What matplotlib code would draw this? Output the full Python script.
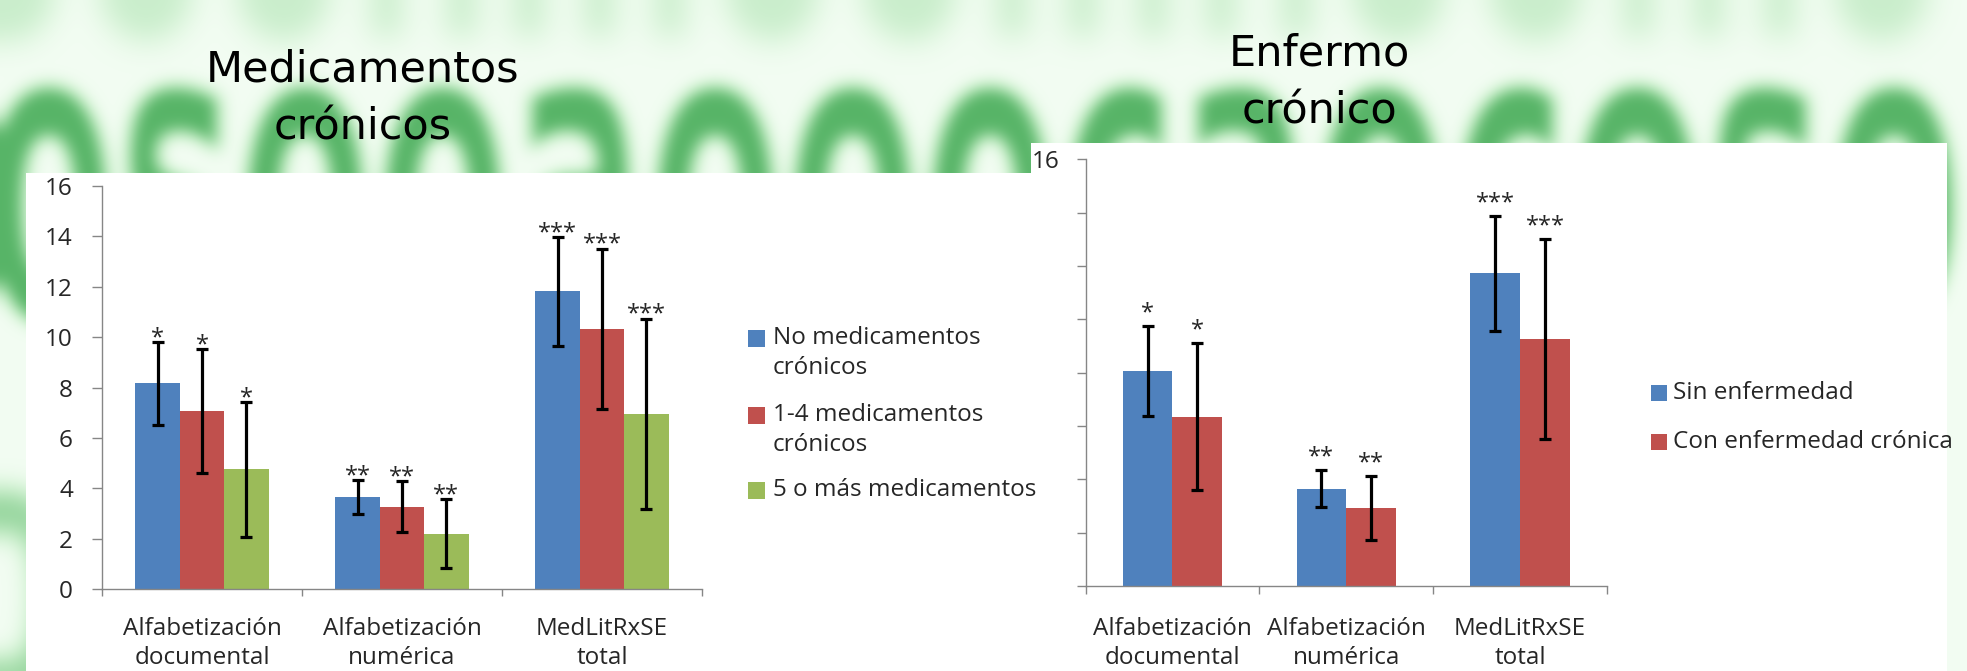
import numpy as np
import matplotlib
matplotlib.use("Agg")
import matplotlib.pyplot as plt
from matplotlib.figure import Figure
from matplotlib.backends.backend_agg import FigureCanvasAgg
from matplotlib.textpath import TextPath
from matplotlib.patches import PathPatch, Rectangle
from matplotlib.font_manager import FontProperties
from matplotlib.transforms import Affine2D

# ---------------- data ----------------
categories = ["Alfabetización\ndocumental", "Alfabetización\nnumérica", "MedLitRxSE\ntotal"]
stars = ["*", "**", "***"]

med_labels = ["No medicamentos\ncrónicos", "1-4 medicamentos\ncrónicos", "5 o más medicamentos"]
med_none = [8.17, 3.65, 11.82]
med_none_err = [1.65, 0.67, 2.16]
med_1_4 = [7.07, 3.28, 10.33]
med_1_4_err = [2.45, 1.00, 3.19]
med_5plus = [4.76, 2.21, 6.97]
med_5plus_err = [2.67, 1.37, 3.77]

sick_labels = ["Sin enfermedad", "Con enfermedad crónica"]
sick_none = [8.07, 3.65, 11.72]
sick_none_err = [1.69, 0.70, 2.16]
sick_chronic = [6.35, 2.92, 9.27]
sick_chronic_err = [2.76, 1.20, 3.75]

yticks = [0, 2, 4, 6, 8, 10, 12, 14, 16]
left_ytick_labels = ["0", "2", "4", "6", "8", "10", "12", "14", "16"]
right_ytick_labels = ["", "", "", "", "", "", "", "", "16"]

titles = ["Medicamentos\ncrónicos", "Enfermo\ncrónico"]

# ---------------- style ----------------
W, H, DPI = 1967, 671, 100
BLUE, RED, GREEN = "#4F81BD", "#C0504D", "#9BBB59"
TXT = "#262626"
AX = "#868686"
FONT = "Open Sans"

# ---------------- background (blurred green letters) ----------------
def text_mask(rows):
    f = Figure(figsize=(W / DPI, H / DPI), dpi=DPI)
    cv = FigureCanvasAgg(f)
    f.patch.set_facecolor("white")
    a = f.add_axes([0, 0, 1, 1])
    a.set_xlim(0, W); a.set_ylim(H, 0); a.axis("off")
    fp = FontProperties(family="DejaVu Sans", weight="bold")
    for s, x0, base, sx, sy in rows:
        tp = TextPath((0, 0), s, size=1, prop=fp)
        tr = Affine2D().scale(sx, -sy).translate(x0, base)
        a.add_patch(PathPatch(tr.transform_path(tp), color="black", lw=0))
    cv.draw()
    arr = np.asarray(cv.buffer_rgba())[..., 0].astype(float) / 255.0
    return 1.0 - arr

def box_blur(a, r, axis):
    pad = [(0, 0), (0, 0)]
    pad[axis] = (r + 1, r)
    p = np.pad(a, pad, mode="edge")
    c = np.cumsum(p, axis=axis)
    if axis == 0:
        return (c[2 * r + 1:] - c[:-2 * r - 1]) / (2 * r + 1)
    return (c[:, 2 * r + 1:] - c[:, :-2 * r - 1]) / (2 * r + 1)

def blur(a, r, n=3):
    for _ in range(n):
        a = box_blur(box_blur(a, r, 0), r, 1)
    return a

m_mid = blur(text_mask([("osooaooocaocosoo", -20, 320, 200, 420)]), 8)
m_top = blur(text_mask([("ooonmoomnoomo", -60, 38, 200, 400)]), 14)
m_bot = blur(text_mask([("ooooooooooooo", -60, 700, 200, 380)]), 12)
m = np.clip(m_mid * 0.88 + m_top * 0.32 + m_bot * 0.6, 0, 1)
pale = np.array([0.95, 0.99, 0.95])
mint = np.array([0.76, 0.94, 0.76])
dark = np.array([0.22, 0.64, 0.30])
mm = m[..., None]
bg = pale * (1 - mm) ** 2 + mint * 2 * mm * (1 - mm) + dark * mm ** 2

# ---------------- figure ----------------
plt.rcParams["font.family"] = [FONT, "DejaVu Sans"]
fig = plt.figure(figsize=(W / DPI, H / DPI), dpi=DPI)
axbg = fig.add_axes([0, 0, 1, 1])
axbg.imshow(bg, extent=(0, W, H, 0), aspect="auto", interpolation="bilinear")
axbg.set_xlim(0, W); axbg.set_ylim(H, 0); axbg.axis("off")
axbg.add_patch(Rectangle((26, 173), 1031 - 26, H - 173, color="white", lw=0))
axbg.add_patch(Rectangle((1031, 143), 1947 - 1031, H - 143, color="white", lw=0))

def px_axes(x0, y0, x1, y1):
    return fig.add_axes([x0 / W, 1 - y1 / H, (x1 - x0) / W, (y1 - y0) / H])

def style_axes(ax, ytl, ytick_len, ypad, xtick_len, xpad):
    ax.set_facecolor("none")
    ax.set_xlim(-0.5, 2.5)
    ax.set_ylim(0, 16)
    for s in ("top", "right"):
        ax.spines[s].set_visible(False)
    for s in ("left", "bottom"):
        ax.spines[s].set_color(AX)
        ax.spines[s].set_linewidth(1.0)
    ax.set_yticks(yticks)
    ax.set_yticklabels(ytl)
    ax.tick_params(axis="y", length=ytick_len, width=1.0, color=AX, pad=ypad,
                   labelsize=17.5, labelcolor=TXT)
    ax.set_xticks([-0.5, 0.5, 1.5, 2.5])
    ax.set_xticklabels([])
    ax.tick_params(axis="x", which="major", length=xtick_len, width=1.0, color=AX)
    ax.set_xticks([0, 1, 2], minor=True)
    ax.set_xticklabels(categories, minor=True)
    ax.tick_params(axis="x", which="minor", length=0, pad=xpad, labelsize=17.5,
                   labelcolor=TXT)
    for t in ax.get_xticklabels(minor=True):
        t.set_linespacing(1.27)

def bars(ax, series, errs, colors, bw, star_dy):
    n = len(series)
    x = np.arange(len(categories))
    for i, (vals, err, c) in enumerate(zip(series, errs, colors)):
        xi = x + (i - (n - 1) / 2) * bw
        ax.bar(xi, vals, width=bw, color=c, yerr=err, capsize=4.2,
               error_kw=dict(elinewidth=2.3, capthick=2.3, ecolor="black"), zorder=2)
        for xx, v, e, s in zip(xi, vals, err, stars):
            ax.annotate(s, xy=(xx, v + e), xytext=(0, star_dy), textcoords="offset points",
                        ha="center", va="baseline", fontsize=17, color=TXT)

# left chart
axL = px_axes(102, 186, 702, 589.3)
style_axes(axL, left_ytick_labels, 7.4, 13.5, 5.3, 20)
bars(axL, [med_none, med_1_4, med_5plus], [med_none_err, med_1_4_err, med_5plus_err],
     [BLUE, RED, GREEN], 1 / 4.5, -1.6)

# right chart
axR = px_axes(1085.5, 159.3, 1607.1, 586)
style_axes(axR, right_ytick_labels, 6.3, 12.7, 5.8, 22.5)
bars(axR, [sick_none, sick_chronic], [sick_none_err, sick_chronic_err],
     [BLUE, RED], 1 / 3.5, 4.6)

# legends (drawn in pixel space)
def legend(x_sq, x_txt, y_rows, labels, colors, sq, ls):
    for y, lab, c in zip(y_rows, labels, colors):
        axbg.add_patch(Rectangle((x_sq, y - sq / 2), sq, sq, color=c, lw=0))
        for k, line in enumerate(lab.split("\n")):
            axbg.text(x_txt, y + k * ls, line, ha="left", va="center",
                      fontsize=17.5, color=TXT)

legend(748, 773, [338, 415, 490], med_labels, [BLUE, RED, GREEN], 17, 30)
legend(1651, 1673, [393, 442], sick_labels, [BLUE, RED], 16, 30)

# titles
for title, xc, y0 in zip(titles, [362.6, 1319.7], [82, 66]):
    for k, line in enumerate(title.split("\n")):
        axbg.text(xc, y0 + k * 57, line, ha="center", va="baseline",
                  fontsize=31, color="black", family="DejaVu Sans")

fig.savefig("out.png", dpi=DPI)
